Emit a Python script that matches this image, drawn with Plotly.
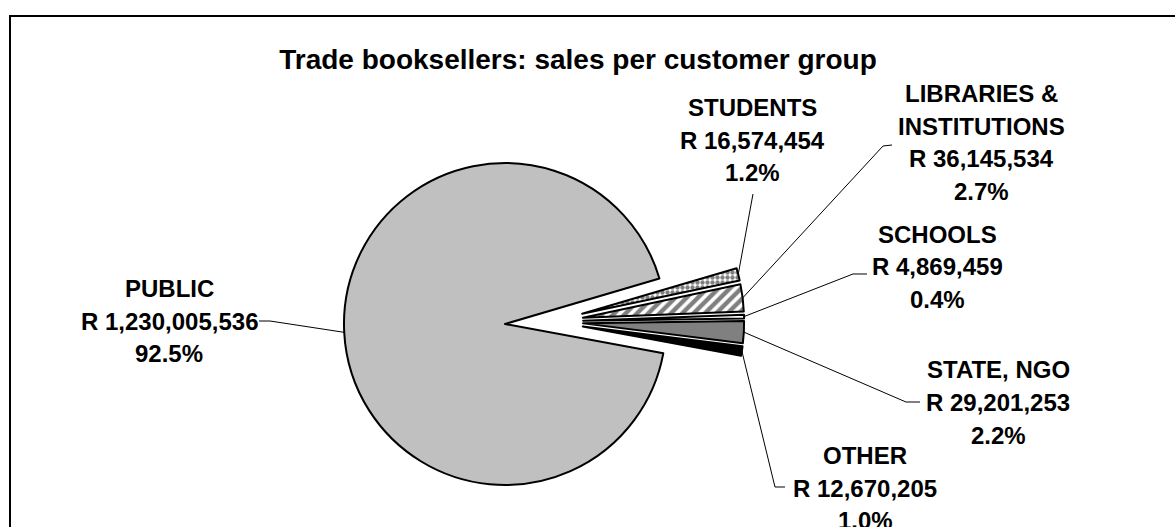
import math
import plotly.graph_objects as go

W, H = 1175, 527

# ---- data -------------------------------------------------------------
groups = ["PUBLIC", "STUDENTS", "LIBRARIES &<br>INSTITUTIONS", "SCHOOLS", "STATE, NGO", "OTHER"]
sales = [1230005536, 16574454, 36145534, 4869459, 29201253, 12670205]

total = sum(sales)
shares = [f"{v / total * 100:.1f}%" for v in sales]
amounts = [f"R {v:,}" for v in sales]

# ---- styling / layout constants --------------------------------------
FONT = "Liberation Sans"
fills = ["#C0C0C0", "#FFFFFF", "#FFFFFF", "#FFFFFF", "#808080", "#000000"]
pattern_shapes = ["", ".", "/", "", "", ""]
pattern_fg = ["#000000", "#000000", "#000000", "#000000", "#000000", "#000000"]
pattern_size = [6, 5, 8, 6, 6, 6]
pattern_solidity = [0.5, 0.6, 0.55, 0.5, 0.5, 0.5]
CLEAR = "rgba(0,0,0,0)"

ROTATION = 100.5          # where the PUBLIC slice starts (deg clockwise from 12 o'clock)
RADIUS = 161              # pie radius in px
CENTER = (505, 324)       # pie centre in px
PULL = 0.2                # explode of the small slices
GROUP_SHIFT = 46          # extra outward offset of the small-slice group in px
LINE_GAP = 32.5           # spacing between label lines in px

# label block centres and leader-line waypoints (px)
label_pos = [(169, 321), (753, 140), (981, 142.5), (937, 266.5), (998, 402.5), (865, 488)]
leader_pts = [
    [(270, 321), (259, 321)],
    [(753, 194)],
    [(883, 146), (892, 145)],
    [(853, 274), (867, 274)],
    [(906, 402), (920, 402)],
    [(775, 487), (785, 487)],
]


def px(x, y):
    return x / W, 1 - y / H


def dir_vec(deg):
    a = math.radians(deg)
    return math.sin(a), -math.cos(a)


def domain_for(cx, cy, half):
    return dict(x=[(cx - half) / W, (cx + half) / W],
                y=[1 - (cy + half) / H, 1 - (cy - half) / H])


# slice angles
angles = [v / total * 360 for v in sales]
mids = []
acc = ROTATION
for a in angles:
    mids.append((acc + a / 2) % 360)
    acc += a

small_angle = sum(angles[1:])
group_dir = dir_vec(ROTATION - small_angle / 2)
C2 = (CENTER[0] + GROUP_SHIFT * group_dir[0], CENTER[1] + GROUP_SHIFT * group_dir[1])

fig = go.Figure()

# main slice
fig.add_trace(go.Pie(
    values=sales, labels=groups, sort=False, direction="clockwise", rotation=ROTATION,
    marker=dict(colors=[fills[0]] + [CLEAR] * 5,
                line=dict(color="#000000", width=[2, 0, 0, 0, 0, 0])),
    textinfo="none", hoverinfo="none", showlegend=False,
    domain=domain_for(CENTER[0], CENTER[1], RADIUS),
))

# exploded small slices
fig.add_trace(go.Pie(
    values=sales, labels=groups, sort=False, direction="clockwise", rotation=ROTATION,
    pull=[0] + [PULL] * 5,
    marker=dict(colors=[CLEAR] + fills[1:],
                line=dict(color="#000000", width=[0, 2, 2, 2, 2, 2]),
                pattern=dict(shape=pattern_shapes, fgcolor=pattern_fg,
                             bgcolor=[CLEAR] + fills[1:], size=pattern_size,
                             solidity=pattern_solidity, fillmode="overlay")),
    textinfo="none", hoverinfo="none", showlegend=False,
    domain=domain_for(C2[0], C2[1], RADIUS * (1 + PULL)),
))

shapes = []
# chart frame
shapes.append(dict(type="rect", xref="paper", yref="paper",
                   x0=10 / W, y0=1 - 600 / H, x1=1190 / W, y1=1 - 16 / H,
                   line=dict(color="#000000", width=2), fillcolor=CLEAR, layer="below"))

annotations = []
for i, g in enumerate(groups):
    m = mids[i]
    d = dir_vec(m)
    if i == 0:
        ax, ay = CENTER[0] + RADIUS * d[0], CENTER[1] + RADIUS * d[1]
    else:
        reach = RADIUS * (1 + PULL)
        ax, ay = C2[0] + reach * d[0], C2[1] + reach * d[1]
    pts = [(ax, ay)] + leader_pts[i]
    path = "M " + " L ".join(f"{px(x, y)[0]:.5f},{px(x, y)[1]:.5f}" for x, y in pts)
    shapes.append(dict(type="path", xref="paper", yref="paper", path=path,
                       line=dict(color="#000000", width=1)))

    lines = g.split("<br>") + [amounts[i], shares[i]]
    cx, cy = label_pos[i]
    top = cy - LINE_GAP * (len(lines) - 1) / 2
    for k, txt in enumerate(lines):
        lx, ly = px(cx, top + k * LINE_GAP)
        annotations.append(dict(
            x=lx, y=ly, xref="paper", yref="paper", xanchor="center", yanchor="middle",
            text=f"<b>{txt}</b>", showarrow=False, align="center",
            font=dict(family=FONT, size=24, color="#000000"),
        ))

fig.update_layout(
    width=W, height=H,
    margin=dict(l=0, r=0, t=0, b=0),
    paper_bgcolor="#FFFFFF", plot_bgcolor="#FFFFFF",
    title=dict(text="<b>Trade booksellers: sales per customer group</b>",
               x=578 / W, xanchor="center", y=1 - 59 / H, yanchor="middle",
               xref="paper", yref="container",
               font=dict(family=FONT, size=28, color="#000000")),
    shapes=shapes,
    annotations=annotations,
    showlegend=False,
)

fig.write_html("out.html")
